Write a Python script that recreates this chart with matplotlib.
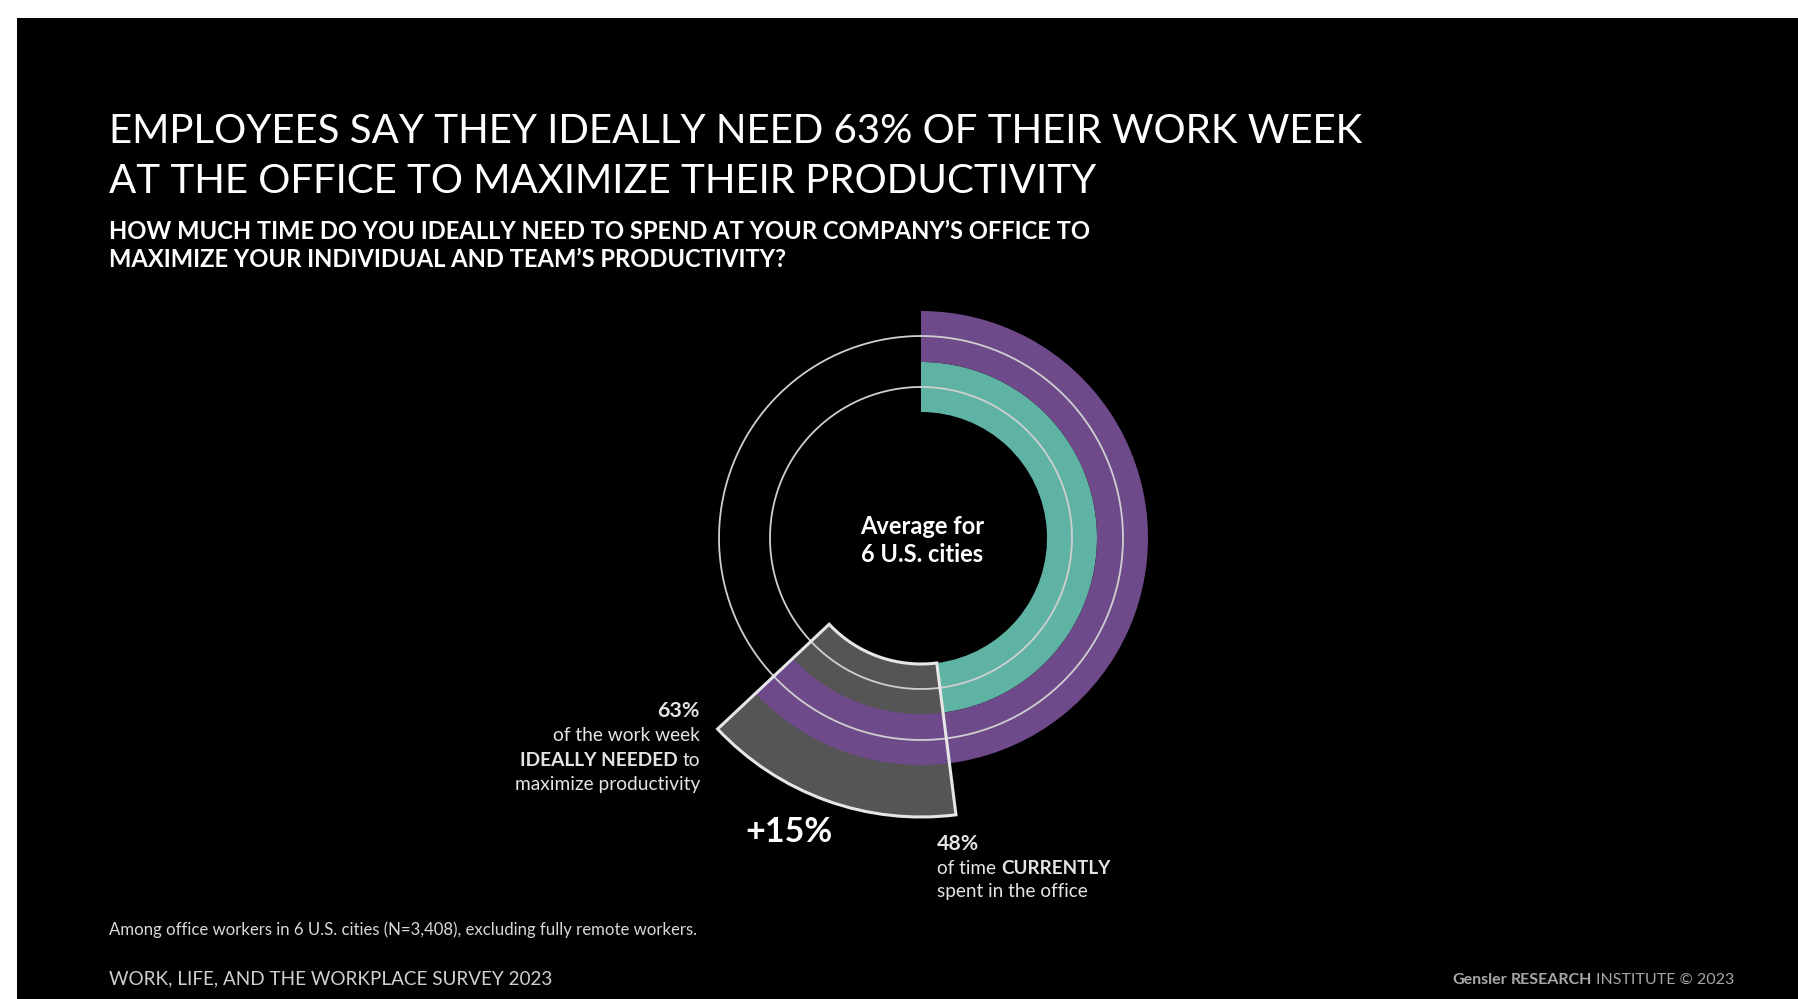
import numpy as np
import matplotlib
matplotlib.use("Agg")
import matplotlib.pyplot as plt
from matplotlib.patches import Rectangle

# ---------------- data ----------------
current_pct = 48          # % of time currently spent in the office
ideal_pct = 63            # % of work week ideally needed
gap_label = "+15%"

title_lines = ["EMPLOYEES SAY THEY IDEALLY NEED 63% OF THEIR WORK WEEK",
               "AT THE OFFICE TO MAXIMIZE THEIR PRODUCTIVITY"]
subtitle_lines = ["HOW MUCH TIME DO YOU IDEALLY NEED TO SPEND AT YOUR COMPANY\u2019S OFFICE TO",
                  "MAXIMIZE YOUR INDIVIDUAL AND TEAM\u2019S PRODUCTIVITY?"]
center_lines = ["Average for", "6 U.S. cities"]
ideal_label = [[("63%", "bold")],
               [("of the work week", "normal")],
               [("IDEALLY NEEDED", "bold"), ("to", "normal")],
               [("maximize productivity", "normal")]]
current_label = [[("48%", "bold")],
                 [("of time", "normal"), ("CURRENTLY", "bold")],
                 [("spent in the office", "normal")]]
footnote = "Among office workers in 6 U.S. cities (N=3,408), excluding fully remote workers."
survey = "WORK, LIFE, AND THE WORKPLACE SURVEY 2023"
brand = [("Gensler", "bold"), ("RESEARCH", "bold"), ("INSTITUTE \u00a9 2023", "normal")]

# ---------------- style ----------------
W, H, DPI = 1798, 999, 100
FAM = ["Lato", "DejaVu Sans"]
PURPLE = "#6E4A8B"
TEAL = "#5FB3A5"
GREY = "#555555"
RING = "#cfcfcf"

fig = plt.figure(figsize=(W / DPI, H / DPI), dpi=DPI, facecolor="white")
fig.patches.append(Rectangle((17 / W, 0), 1 - 17 / W, 1 - 18 / H, transform=fig.transFigure,
                             facecolor="black", edgecolor="none", zorder=-5))
renderer = fig.canvas.get_renderer()


def fx(x):
    return x / W


def fy(y):
    return 1 - y / H


def width_of(s, size, weight):
    t = fig.text(0, 0, s, fontsize=size, fontweight=weight, family=FAM)
    w = t.get_window_extent(renderer).width
    t.remove()
    return w


def space_w(size, weight):
    return width_of("x x", size, weight) - width_of("xx", size, weight)


def runs_width(parts, size):
    w = 0
    for i, (s, wt) in enumerate(parts):
        w += width_of(s, size, wt)
        if i < len(parts) - 1:
            w += space_w(size, wt)
    return w


def fit_size(parts, target):
    base = 20
    return base * target / runs_width(parts, base)


def draw_runs(x, y, parts, size, ha="left", color="white"):
    total = runs_width(parts, size)
    if ha == "left":
        cx = x
    elif ha == "right":
        cx = x - total
    else:
        cx = x - total / 2
    for i, (s, wt) in enumerate(parts):
        fig.text(fx(cx), fy(y), s, fontsize=size, fontweight=wt, family=FAM,
                 color=color, ha="left", va="baseline")
        cx += width_of(s, size, wt)
        if i < len(parts) - 1:
            cx += space_w(size, wt)


# ---------------- titles ----------------
ts = fit_size([(title_lines[0], "normal")], 1253)
for line, yb in zip(title_lines, [143, 193]):
    draw_runs(109, yb, [(line, "normal")], ts, color="white")

ss = fit_size([(subtitle_lines[0], "bold")], 981)
for line, yb in zip(subtitle_lines, [239, 267]):
    draw_runs(109, yb, [(line, "bold")], ss, color="white")

# ---------------- chart ----------------
CX, CY, RMAX = 921, 538, 300
ax = fig.add_axes([fx(CX - RMAX), fy(CY + RMAX), 2 * RMAX / W, 2 * RMAX / H], projection="polar")
ax.set_theta_zero_location("N")
ax.set_theta_direction(-1)
ax.set_ylim(0, RMAX)
ax.axis("off")

R_IN, R_TEAL, R_PURP, R_GREY = 126, 176, 227, 279


def th(p):
    return p / 100 * 2 * np.pi


ax.bar(x=th(current_pct), height=R_GREY - R_IN, width=th(ideal_pct) - th(current_pct),
       bottom=R_IN, align="edge", color=GREY, edgecolor="none", zorder=1)
ax.bar(x=0, height=R_TEAL - R_IN, width=th(current_pct), bottom=R_IN, align="edge",
       color=TEAL, edgecolor="none", zorder=2)
ax.bar(x=0, height=R_PURP - R_TEAL, width=th(ideal_pct), bottom=R_TEAL, align="edge",
       color=PURPLE, edgecolor="none", zorder=2)
theta = np.linspace(0, 2 * np.pi, 720)
for r in (151, 202):
    ax.plot(theta, np.full_like(theta, r), color=RING, lw=1.3, zorder=3)
ax.bar(x=th(current_pct), height=R_GREY - R_IN, width=th(ideal_pct) - th(current_pct),
       bottom=R_IN, align="edge", fill=False, edgecolor="#e6e6e6", lw=2.2, zorder=4)

# center text
cs = fit_size([(center_lines[0], "bold")], 124)
for line, yb in zip(center_lines, [534, 562]):
    draw_runs(CX + 1, yb, [(line, "bold")], cs, ha="center", color="white")

# left label (ideal)
ls = fit_size(ideal_label[3], 185)
for parts, yb in zip(ideal_label, [717, 741, 766, 790]):
    draw_runs(700, yb, parts, ls * (1.12 if parts[0][0] == "63%" else 1.0), ha="right", color="#e4e4e4")

# gap label
gs = fit_size([(gap_label, "bold")], 87)
draw_runs(745, 842, [(gap_label, "bold")], gs, color="white")

# right label (current)
rs = fit_size(current_label[1], 174)
for parts, yb in zip(current_label, [850, 874, 897]):
    draw_runs(937, yb, parts, rs * (1.12 if parts[0][0] == "48%" else 1.0), color="#e4e4e4")

# ---------------- footer ----------------
fs = fit_size([(footnote, "normal")], 589)
draw_runs(109, 935, [(footnote, "normal")], fs, color="#d8d8d8")
ws = fit_size([(survey, "normal")], 443)
draw_runs(109, 984, [(survey, "normal")], ws, color="#cfcfcf")
bs = fit_size(brand, 282)
draw_runs(1452, 984, brand, bs, color="#a8a8a8")

fig.savefig("out.png", dpi=DPI, facecolor=fig.get_facecolor())
